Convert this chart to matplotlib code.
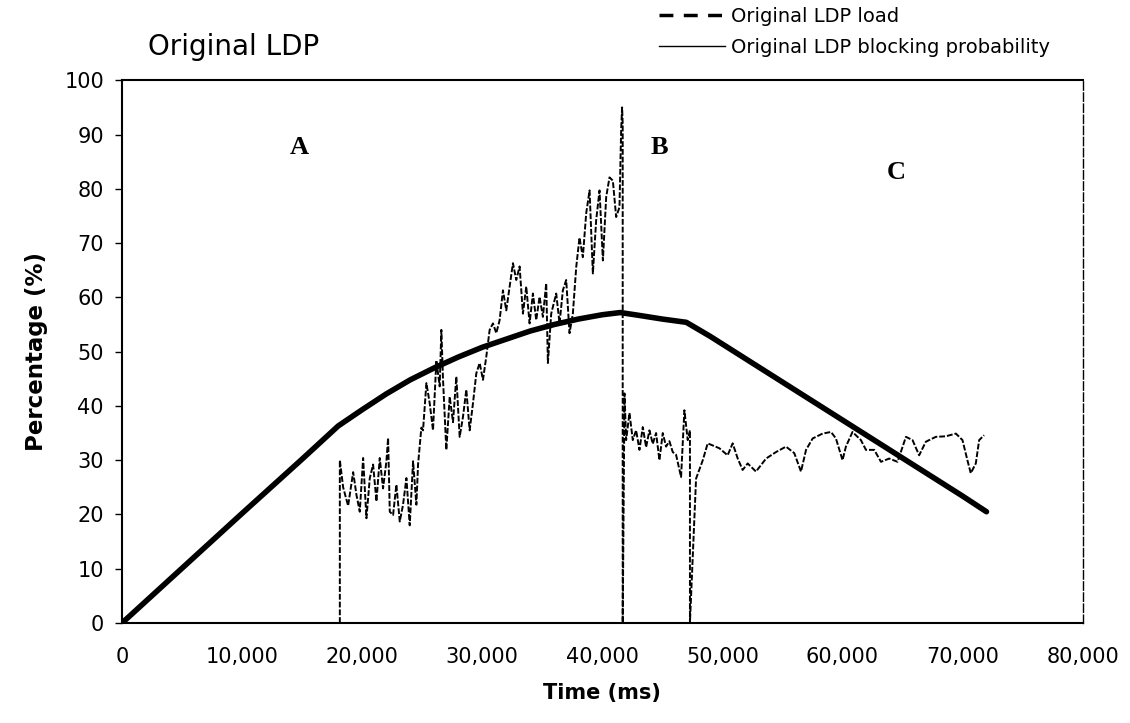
import matplotlib
matplotlib.use("Agg")
import matplotlib.pyplot as plt
from matplotlib.lines import Line2D
from matplotlib.ticker import FuncFormatter

# ---------------- data ----------------
load_t = [0, 5000, 10000, 15000, 18000, 20000, 22000, 24000, 26000, 28000,
          30000, 32000, 34000, 36000, 38000, 40000, 41500, 43000, 45000, 47000,
          49000, 52000, 55000, 58000, 61000, 64000, 67000, 70000, 72000]
load_v = [0, 10.1, 20.2, 30.2, 36.3, 39.3, 42.2, 44.8, 47.0, 49.0,
          50.8, 52.3, 53.8, 55.0, 56.0, 56.8, 57.2, 56.7, 56.0, 55.4,
          52.8, 48.6, 44.4, 40.2, 36.0, 31.8, 27.6, 23.4, 20.5]

block_t = [18140, 18140, 18415, 18830, 19250, 19525, 19800, 20080, 20355, 20635,
           20910, 21190, 21465, 21740, 22020, 22160, 22300, 22575, 22850, 23130,
           23405, 23685, 23960, 24240, 24515, 24655, 24930,
           25070, 25350, 25625, 25900, 26180, 26457, 26595, 26735, 27010, 27290,
           27566, 27843, 28120, 28398, 28675, 28953, 29230, 29507, 29785, 30062,
           30340, 30617, 30894, 31172, 31449, 31726, 32003, 32558, 32835, 33113,
           33390, 33667, 33944, 34221, 34499, 34776, 35053, 35330, 35469, 35746,
           36162, 36440, 36717, 36994, 37271, 37549, 37830,
           38100, 38380, 38660, 38940, 39215, 39490, 39770, 40050, 40325, 40600,
           40880, 41155, 41430, 41570, 41650, 41700, 41700,
           41850, 41985, 42263, 42540, 42818, 43095, 43372, 43650, 43927, 44204,
           44481, 44759, 45036, 45313, 45590, 45868, 46145, 46561, 46838, 47115,
           47300, 47300,
           47810, 48370, 48780, 49750, 50440, 50860, 51280, 51690, 52110, 52800,
           53640, 54470, 55300, 55990, 56550, 56970, 57520, 58350, 59050, 59460,
           60010, 60290, 60840, 61540, 61960, 62650, 63210, 63900, 64590, 65290,
           65840, 66390, 66950, 67780, 68610, 69450, 70000, 70410, 70690, 71110,
           71390, 71800]
block_v = [0, 30.0, 25.0, 21.6, 27.8, 23.6, 20.5, 30.4, 19.3, 26.7,
           29.2, 22.4, 30.4, 24.8, 29.8, 34.1, 20.5, 19.9, 25.5, 18.7,
           21.8, 26.7, 18.0, 29.8, 21.8, 29.2, 36.0,
           35.5, 44.2, 40.5, 35.5, 48.4, 43.6, 54.0, 44.8, 31.9, 41.7,
           37.0, 45.4, 34.3, 38.0, 43.0, 35.5, 40.5, 46.0, 47.9, 44.8,
           49.1, 54.0, 55.2, 53.4, 55.8, 61.3, 57.6, 66.3, 63.2, 65.7,
           57.0, 62.0, 55.2, 60.7, 55.8, 60.1, 56.4, 62.6, 47.9, 57.0,
           60.7, 55.2, 61.3, 63.2, 53.4, 57.0, 65.6,
           71.0, 67.4, 75.5, 79.7, 64.4, 74.2, 79.7, 66.8, 78.5, 82.1,
           81.5, 74.8, 76.6, 90.8, 95.0, 92.0, 0,
           42.3, 33.7, 38.7, 33.7, 35.5, 31.9, 36.1, 32.4, 35.5, 33.0,
           35.0, 30.0, 35.0, 32.5, 33.5, 31.5, 31.0, 26.9, 39.2, 33.7,
           35.5, 0,
           26.6, 30.0, 33.1, 32.2, 30.9, 33.1, 30.3, 28.2, 29.4, 27.9,
           30.3, 31.5, 32.5, 31.3, 27.9, 31.9, 34.0, 34.9, 35.2, 34.0,
           30.0, 32.5, 35.2, 33.7, 31.9, 31.9, 29.7, 30.3, 29.7, 34.3,
           33.7, 30.9, 33.4, 34.3, 34.4, 34.9, 33.7, 30.0, 27.6, 29.4,
           33.7, 34.6]

x_ticks = [0, 10000, 20000, 30000, 40000, 50000, 60000, 70000, 80000]
y_ticks = [0, 10, 20, 30, 40, 50, 60, 70, 80, 90, 100]
region_labels = ["A", "B", "C"]
region_pos = [(14800, 87.7), (44760, 87.7), (64480, 83.0)]

series_names = ["Original LDP load", "Original LDP blocking probability"]

# ---------------- figure ----------------
plt.rcParams['font.family'] = ['DejaVu Sans']
fig = plt.figure(figsize=(11.3, 7.23), dpi=100)
ax = fig.add_axes([0.108, 0.1383, 0.850, 0.7507])

ax.plot(block_t, block_v, color='black', lw=1.4, linestyle=(0, (3, 1)))
ax.plot(load_t, load_v, color='black', lw=4.0, solid_capstyle='round')

ax.set_xlim(0, 80000)
ax.set_ylim(0, 100)
ax.set_xticks(x_ticks)
ax.set_yticks(y_ticks)
ax.xaxis.set_major_formatter(FuncFormatter(lambda v, p: "0" if v == 0 else f"{int(v):,}"))
ax.tick_params(axis='x', length=0, pad=17, labelsize=15)
ax.tick_params(axis='y', length=5, width=1, direction='out', pad=8, labelsize=15)

for s in ['left', 'bottom', 'top']:
    ax.spines[s].set_color('black')
    ax.spines[s].set_linewidth(1.5)
ax.spines['right'].set_linestyle((0, (6, 2)))
ax.spines['right'].set_linewidth(1.0)

ax.set_xlabel("Time (ms)", fontsize=15, fontweight='bold', labelpad=12)
ax.set_ylabel("Percentage (%)", fontsize=16.5, fontweight='bold', labelpad=12)

for lab, (x, y) in zip(region_labels, region_pos):
    ax.text(x, y, lab, fontsize=19, fontweight='bold', family='Liberation Serif',
            ha='center', va='center')

fig.text(148 / 1130, 1 - 47 / 723, "Original LDP", fontsize=20, ha='left', va='center')

handles = [Line2D([], [], color='black', lw=2.5, linestyle=(0, (4, 3))),
           Line2D([], [], color='black', lw=1.0)]
fig.legend(handles, series_names, loc='upper left',
           bbox_to_anchor=(655 / 1130, 1 - 3 / 723), frameon=False,
           fontsize=14, handlelength=3.4, handletextpad=0.3, labelspacing=0.6,
           borderaxespad=0.0, borderpad=0.2)

fig.savefig("out.png", dpi=100)
